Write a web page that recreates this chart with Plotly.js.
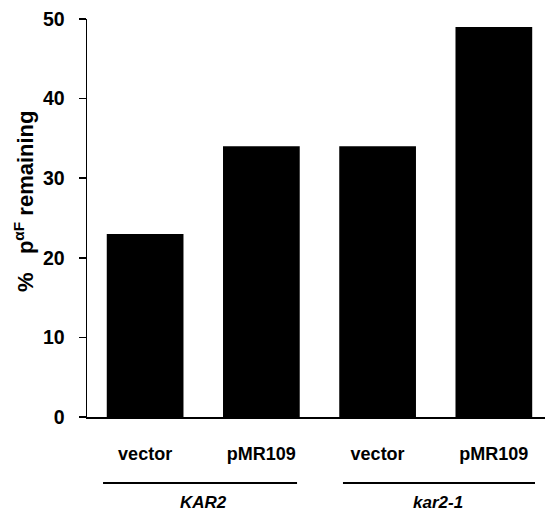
<!DOCTYPE html>
<html><head><meta charset="utf-8">
<script src="https://cdn.plot.ly/plotly-3.0.1.min.js"></script>
<style>html,body{margin:0;padding:0;background:#fff}#c{width:548px;height:512px}</style>
</head><body><div id="c"></div>
<script>
const categories = ["KAR2 vector", "KAR2 pMR109", "kar2-1 vector", "kar2-1 pMR109"];
const tickLabels = ["vector", "pMR109", "vector", "pMR109"];
const values = [23, 34, 34, 49];
const groups = ["KAR2", "kar2-1"];
const yTicks = [0, 10, 20, 30, 40, 50];

const F = "Arial, 'Liberation Sans', Helvetica, sans-serif";
const trace = {
  type: 'bar', x: [0,1,2,3], y: values, width: 0.66,
  marker: {color: '#000', line: {width: 0}}, hoverinfo: 'none'
};
const layout = {
  width: 548, height: 512,
  margin: {l: 87, r: 3, t: 19, b: 95},
  paper_bgcolor: '#fff', plot_bgcolor: '#fff',
  showlegend: false,
  xaxis: {
    range: [-0.5, 3.44], tickvals: [0,1,2,3], ticktext: tickLabels,
    showgrid: false, zeroline: false, showline: true, linecolor: '#000', linewidth: 1.5,
    ticks: '', ticklabelstandoff: 20,
    tickfont: {family: F, size: 18, color: '#000', weight: 'bold'}
  },
  yaxis: {
    range: [0, 50], tickvals: yTicks, showgrid: false, zeroline: false,
    showline: true, linecolor: '#000', linewidth: 1.5,
    ticks: 'outside', ticklen: 7, tickwidth: 1.5, tickcolor: '#000', ticklabelstandoff: 10,
    tickfont: {family: F, size: 19.5, color: '#000', weight: 'bold'}
  },
  shapes: [
    {type: 'line', xref: 'x', yref: 'paper', x0: -0.362, x1: 1.307, y0: -0.166, y1: -0.166, line: {color: '#000', width: 2}},
    {type: 'line', xref: 'x', yref: 'paper', x0: 1.702, x1: 3.354, y0: -0.166, y1: -0.166, line: {color: '#000', width: 2}}
  ],
  annotations: [
    {xref: 'x', yref: 'paper', x: 0.5, y: -0.214, xanchor: 'center', yanchor: 'middle',
     text: '<i>' + groups[0] + '</i>', showarrow: false,
     font: {family: F, size: 17, color: '#000', weight: 'bold'}},
    {xref: 'x', yref: 'paper', x: 2.52, y: -0.214, xanchor: 'center', yanchor: 'middle',
     text: '<i>' + groups[1] + '</i>', showarrow: false,
     font: {family: F, size: 17, color: '#000', weight: 'bold'}},
    {xref: 'paper', yref: 'paper', x: (24-87)/458, y: (417-202)/398, xanchor: 'center', yanchor: 'middle',
     textangle: -90, showarrow: false,
     text: '%&nbsp;&nbsp;&nbsp;p<sup>\u03b1F</sup> remaining', font: {family: F, size: 22, color: '#000', weight: 'bold'}}
  ]
};
Plotly.newPlot('c', [trace], layout, {displayModeBar: false, staticPlot: true});
</script></body></html>
